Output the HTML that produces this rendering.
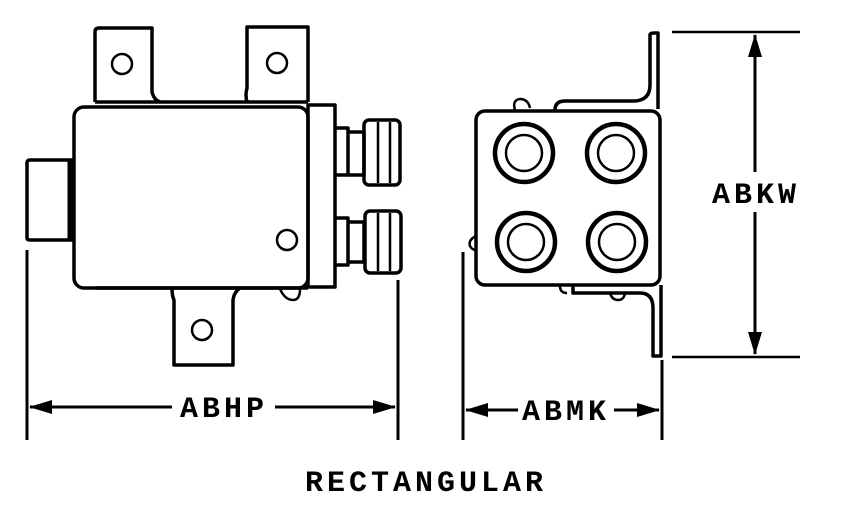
<!DOCTYPE html>
<html><head><style>
html,body{margin:0;padding:0;background:#fff;}
svg text{font-family:"Liberation Mono",monospace;font-weight:bold;fill:#000;font-size:30px;letter-spacing:4px;}
</style></head><body>
<svg width="846" height="517" viewBox="0 0 846 517" xmlns="http://www.w3.org/2000/svg">
<g fill="none" stroke="#000" stroke-width="3.5" stroke-linejoin="round">
<path d="M95,102 V32 Q95,28 99,28 H152 V92 Q154,100 160,102"/>
<path d="M247,102 Q245,95 247,88 V27 H308 V102"/>
<line x1="95" y1="102" x2="308" y2="102"/>
<circle cx="122" cy="64" r="10" stroke-width="2.5"/>
<circle cx="277" cy="63" r="10" stroke-width="2.5"/>
<rect x="74" y="107" width="234" height="181" rx="10"/>
<rect x="308" y="105" width="27" height="182"/>
<path d="M73,160 H30 Q27,160 27,163 V238 Q27,240 30,240 H73"/>
<line x1="70" y1="160" x2="70" y2="240" stroke-width="5"/>
<path d="M172,288 Q172,296 174,300 V365 H233 V300 Q234,292 240,288"/>
<line x1="95" y1="288" x2="308" y2="288"/>
<circle cx="202" cy="330" r="10" stroke-width="2.5"/>
<circle cx="287" cy="240" r="10" stroke-width="2.5"/>
<path d="M280,289 Q285,300 293,300 Q300,300 300,289" stroke-width="2.5"/>
<path d="M335,128 H348 V175 H335"/>
<path d="M348,132 H364 V175 H348"/>
<rect x="364" y="120" width="36" height="65" rx="5"/>
<line x1="378" y1="122" x2="378" y2="183" stroke-width="2.5"/>
<line x1="390" y1="122" x2="390" y2="183" stroke-width="2.5"/>
<path d="M335,218 H348 V265 H335"/>
<path d="M348,222 H364 V262 H348"/>
<rect x="365" y="211" width="36" height="62" rx="5"/>
<line x1="378" y1="213" x2="378" y2="271" stroke-width="2.5"/>
<line x1="390" y1="213" x2="390" y2="271" stroke-width="2.5"/>
<rect x="476" y="111" width="184" height="174" rx="9"/>
<circle cx="524" cy="153" r="29" stroke-width="4.5"/>
<circle cx="524" cy="153" r="18" stroke-width="2.5"/>
<circle cx="616" cy="153" r="29" stroke-width="4.5"/>
<circle cx="616" cy="153" r="18" stroke-width="2.5"/>
<circle cx="526" cy="242" r="29" stroke-width="4.5"/>
<circle cx="526" cy="242" r="18" stroke-width="2.5"/>
<circle cx="617" cy="242" r="29" stroke-width="4.5"/>
<circle cx="617" cy="242" r="18" stroke-width="2.5"/>
<path d="M555,110 Q555,101 565,101 H635 Q650,100 650,85 V35 Q650,33 654,33 H658 V109"/>
<path d="M515,110 Q512,100 520,99 Q528,99 530,108" stroke-width="2.5"/>
<path d="M573,286 V293 H640 Q653,293 653,308 V356 H661 V285"/>
<path d="M560,286 Q560,293 567,293" stroke-width="2.5"/>
<path d="M610,293 Q612,300 618,300 Q624,300 625,293" stroke-width="2.5"/>
<path d="M476,236 Q468,240 470,246 Q472,250 476,250" stroke-width="2.5"/>
<line x1="27" y1="250" x2="27" y2="440" stroke-width="3"/>
<line x1="398" y1="280" x2="398" y2="440" stroke-width="3"/>
<line x1="463" y1="252" x2="463" y2="440" stroke-width="3"/>
<line x1="662" y1="360" x2="662" y2="440" stroke-width="3"/>
<line x1="672" y1="32" x2="800" y2="32" stroke-width="2.5"/>
<line x1="672" y1="357" x2="800" y2="357" stroke-width="2.5"/>
<line x1="30" y1="407" x2="172" y2="407" stroke-width="3"/>
<line x1="275" y1="407" x2="395" y2="407" stroke-width="3"/>
<line x1="466" y1="410" x2="518" y2="410" stroke-width="3"/>
<line x1="614" y1="410" x2="659" y2="410" stroke-width="3"/>
<line x1="755" y1="35" x2="755" y2="172" stroke-width="3"/>
<line x1="755" y1="212" x2="755" y2="354" stroke-width="3"/>
</g>
<g fill="#000">
<polygon points="29,407 52,400 52,414"/>
<polygon points="396,407 373,400 373,414"/>
<polygon points="465,410 488,403 488,417"/>
<polygon points="660,410 637,403 637,417"/>
<polygon points="755,34 748,57 762,57"/>
<polygon points="755,355 748,332 762,332"/>
</g>
<text x="180" y="417">ABHP</text>
<text x="522" y="420">ABMK</text>
<text x="712" y="203">ABKW</text>
<text x="305" y="491">RECTANGULAR</text>
</svg>
</body></html>
